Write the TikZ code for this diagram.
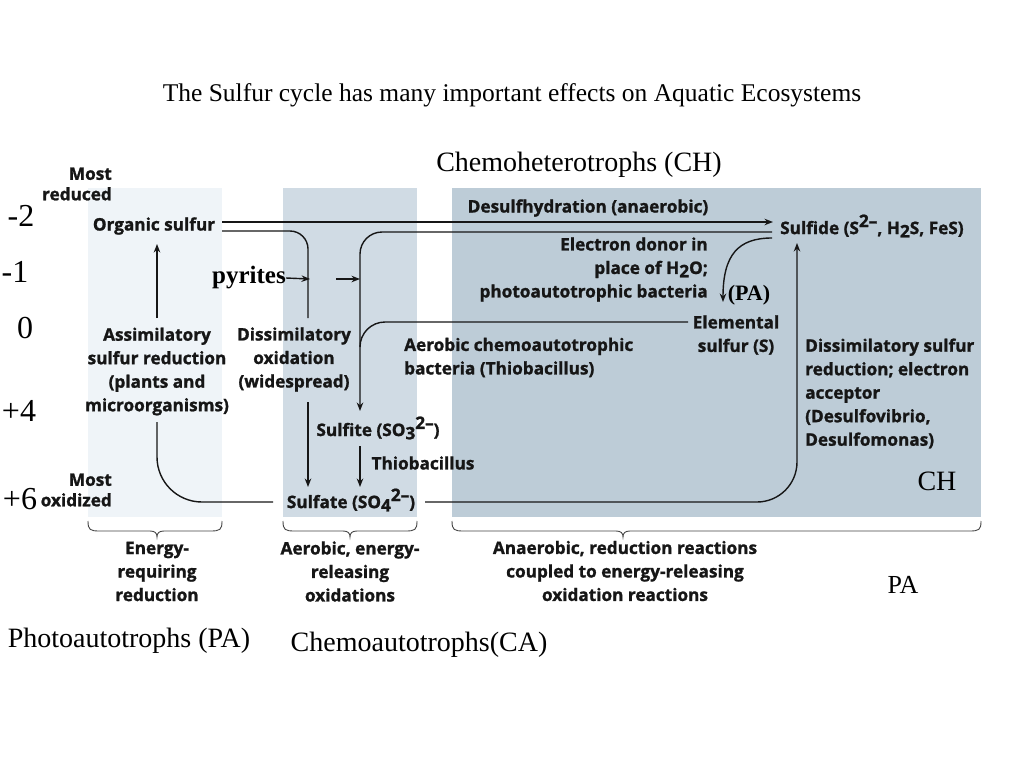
\documentclass[tikz,border=0pt]{standalone}
\usepackage{fontspec}
\setmainfont{Liberation Serif}
\newfontfamily\dsans{Open Sans}[BoldFeatures={FakeBold=1.3}]
\usetikzlibrary{arrows.meta}
\definecolor{zoneA}{HTML}{EFF4F8}
\definecolor{zoneB}{HTML}{D0DBE4}
\definecolor{zoneC}{HTML}{BDCCD7}
\definecolor{ink}{HTML}{161616}
\newcommand\mysub[1]{\raisebox{-0.35ex}{#1}}
\newcommand\mysup[1]{\raisebox{0.75ex}{#1}}
\tikzset{
  lbl/.style={font=\dsans\bfseries\fontsize{17.2}{23.5}\selectfont, inner sep=0pt, text=ink},
  ser/.style={font=\fontsize{22}{26}\selectfont, inner sep=0pt, text=black},
  flow/.style={line width=1.4pt, draw=ink},
  arr/.style={flow, -{Stealth[length=8.5pt,width=6.5pt]}},
  brace/.style={line width=0.9pt, draw=ink!80}
}
\begin{document}
\begin{tikzpicture}[x=1pt,y=-1pt]
\useasboundingbox[fill=white] (0,0) rectangle (1024,768);
% zones
\fill[zoneA] (88,188) rectangle (222,517);
\fill[zoneB] (283,188) rectangle (417,517);
\fill[zoneC] (452,188) rectangle (981,517);
% serif texts
\node[ser, font=\fontsize{25.5}{29}\selectfont] (title) at (512,95) {The Sulfur cycle has many important effects on Aquatic Ecosystems};
\node[ser, font=\fontsize{28}{32}\selectfont] (chtitle) at (579,165) {Chemoheterotrophs (CH)};
\node[ser, font=\fontsize{32}{36}\selectfont] (m2) at (21,216) {-2};
\node[ser, font=\fontsize{32}{36}\selectfont] (m1) at (15,272) {-1};
\node[ser, font=\fontsize{32}{36}\selectfont] (z0) at (25,328) {0};
\node[ser, font=\fontsize{32}{36}\selectfont] (p4) at (19,411) {+4};
\node[ser, font=\fontsize{32}{36}\selectfont] (p6) at (20,499) {+6};
\node[ser, font=\bfseries\fontsize{25}{29}\selectfont, anchor=east] (pyr) at (286,278) {pyrites};
\node[ser, font=\bfseries\fontsize{22}{26}\selectfont] (pa1) at (749,295) {(PA)};
\node[ser, font=\fontsize{28}{32}\selectfont] (ch) at (937,481) {CH};
\node[ser, font=\fontsize{26}{30}\selectfont] (pa2) at (903,585) {PA};
\node[ser, font=\fontsize{28}{32}\selectfont] (photo) at (129,641) {Photoautotrophs (PA)};
\node[ser, font=\fontsize{28}{32}\selectfont] (chemo) at (419,645) {Chemoautotrophs(CA)};
% sans labels
\node[lbl, align=right, anchor=east] (mostred) at (112,184) {Most\\[-3pt]reduced};
\node[lbl, align=right, anchor=east] (mostox) at (112,490) {Most\\[-3pt]oxidized};
\node[lbl] (os) at (154,226) {Organic sulfur};
\node[lbl, anchor=west] (sfd) at (780,226) {Sulfide (S\mysup{2–}, H\mysub{2}S, FeS)};
\node[lbl] (desulf) at (588,208) {Desulfhydration (anaerobic)};
\node[lbl, align=right, anchor=east] (edonor) at (708,269.5) {Electron donor in\\place of H\mysub{2}O;\\photoautotrophic bacteria};
\node[lbl, align=center] (es) at (736,335) {Elemental\\sulfur (S)};
\node[lbl, align=left, anchor=west] (aer) at (404,357.5) {Aerobic chemoautotrophic\\bacteria (Thiobacillus)};
\node[lbl, align=left, anchor=west] (dsr) at (805,393.5) {Dissimilatory sulfur\\reduction; electron\\acceptor\\(Desulfovibrio,\\Desulfomonas)};
\node[lbl, align=center] (asr) at (157,371.5) {Assimilatory\\sulfur reduction\\(plants and\\microorganisms)};
\node[lbl, align=center] (dox) at (294,359.5) {Dissimilatory\\oxidation\\(widespread)};
\node[lbl] (sft) at (378,428) {Sulfite (SO\mysub{3}\mysup{2–})};
\node[lbl] (thio) at (423,463) {Thiobacillus};
\node[lbl] (sfa) at (351,500) {Sulfate (SO\mysub{4}\mysup{2–})};
\node[lbl, align=center] (b1t) at (157,571.5) {Energy-\\requiring\\reduction};
\node[lbl, align=center] (b2t) at (350,571.5) {Aerobic, energy-\\releasing\\oxidations};
\node[lbl, align=center] (b3t) at (625,571) {Anaerobic, reduction reactions\\coupled to energy-releasing\\oxidation reactions};
% coordinates
\coordinate (osA) at (222,222);
\coordinate (osB) at (222,231);
\coordinate (sfdA) at (773,222);
\coordinate (sfdB) at (772,232);
\coordinate (sfdC) at (772,238);
\coordinate (doxTop) at (308,318);
\coordinate (sftTop) at (360,411);
\coordinate (esW) at (688,322);
\coordinate (join) at (360,347);
\coordinate (esTop) at (723,302);
\coordinate (asrUp) at (157,244);
\coordinate (asrLow) at (157,318);
\coordinate (asrBot) at (157,422);
\coordinate (sfaW) at (273,502);
\coordinate (sfaE) at (425,502);
\coordinate (sfdBot) at (797,243);
% connectors
\draw[arr] (osA) -- (sfdA);
\draw[flow, rounded corners=18pt] (osB) -| (doxTop);
\draw[arr, rounded corners=22pt] (sfdB) -| (sftTop);
\draw[flow, rounded corners=25pt] (esW) -| (join);
\draw[arr] (sfdC) .. controls (738,238) and (723,255) .. (esTop);
\draw[arr] (pyr.east) -- (310,279);
\draw[arr] (336,279) -- (360,279);
\draw[arr] (asrLow) -- (asrUp);
\draw[flow, rounded corners=45pt] (sfaW) -| (asrBot);
\draw[arr] (308,402) -- (308,487);
\draw[arr] (360,446) -- (360,487);
\draw[arr, rounded corners=40pt] (sfaE) -| (sfdBot);
% braces
\draw[brace] (88,521) .. controls (88,530) and (90,531) .. (100,531) -- (150,531) .. controls (155,531) and (157,533) .. (157,537) .. controls (157,533) and (159,531) .. (164,531) -- (210,531) .. controls (220,531) and (222,530) .. (222,521);
\draw[brace] (283,521) .. controls (283,530) and (285,531) .. (295,531) -- (343,531) .. controls (348,531) and (350,533) .. (350,537) .. controls (350,533) and (352,531) .. (357,531) -- (405,531) .. controls (415,531) and (417,530) .. (417,521);
\draw[brace] (452,521) .. controls (452,530) and (454,531) .. (464,531) -- (616,531) .. controls (621,531) and (623,533) .. (623,537) .. controls (623,533) and (625,531) .. (630,531) -- (969,531) .. controls (979,531) and (981,530) .. (981,521);
\end{tikzpicture}
\end{document}
